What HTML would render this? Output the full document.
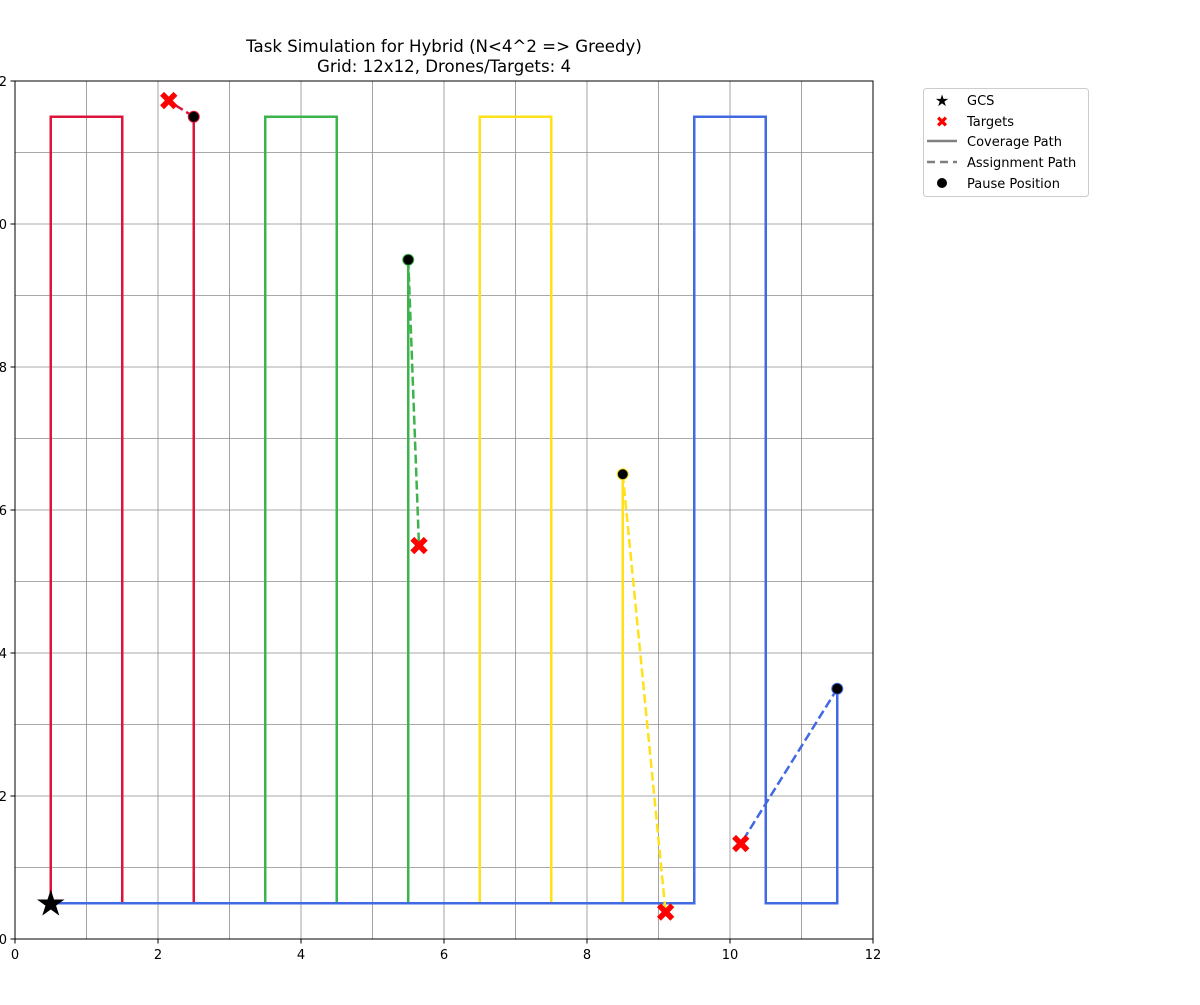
<!DOCTYPE html>
<html><head><meta charset="utf-8"><style>
body{margin:0;background:#fff;}
svg text{font-family:"DejaVu Sans","Liberation Sans",sans-serif;}
</style></head><body>
<svg id="chart" width="1200" height="1000" xmlns="http://www.w3.org/2000/svg">
<rect width="1200" height="1000" fill="#fff"/>
<text x="444" y="52" font-size="16.6" text-anchor="middle">Task Simulation for Hybrid (N&lt;4^2 =&gt; Greedy)</text>
<text x="444" y="72" font-size="16.6" text-anchor="middle">Grid: 12x12, Drones/Targets: 4</text>
<g id="grid"></g>
<g id="paths"></g>
<g id="marks"></g>
<rect x="15" y="81" width="858" height="858" fill="none" stroke="#000" stroke-width="1"/>
<g id="ticks"></g>
<g>
<rect x="923.5" y="88.5" width="165" height="108" rx="3" fill="#fff" stroke="#ccc"/>
<text x="942" y="106" font-size="16" text-anchor="middle">★</text><text x="967" y="105" font-size="13">GCS</text>
<text x="942" y="127" font-size="15" fill="red" font-weight="bold" text-anchor="middle">✖</text><text x="967" y="126" font-size="13">Targets</text>
<line x1="927" y1="141" x2="957" y2="141" stroke="#808080" stroke-width="2.5"/><text x="967" y="146" font-size="13">Coverage Path</text>
<line x1="927" y1="162" x2="957" y2="162" stroke="#808080" stroke-width="2.5" stroke-dasharray="8,5"/><text x="967" y="167" font-size="13">Assignment Path</text>
<circle cx="942" cy="183" r="5" fill="#000"/><text x="967" y="188" font-size="13">Pause Position</text>
</g>
</svg>
<script>
const xTicks=[0,2,4,6,8,10,12];
const yTicks=[0,2,4,6,8,10,12];
const droneNames=['red','green','yellow','blue'];
const droneColors=['#dc143c','#3cb44b','#ffe119','#4169e1'];
const pathRed=[[0.5,0.5],[0.5,11.5],[1.5,11.5],[1.5,0.5],[2.5,0.5],[2.5,11.5]];
const pathGreen=[[2.5,0.5],[3.5,0.5],[3.5,11.5],[4.5,11.5],[4.5,0.5],[5.5,0.5],[5.5,9.5]];
const pathYellow=[[5.5,0.5],[6.5,0.5],[6.5,11.5],[7.5,11.5],[7.5,0.5],[8.5,0.5],[8.5,6.5]];
const pathBlue=[[0.5,0.5],[9.5,0.5],[9.5,11.5],[10.5,11.5],[10.5,0.5],[11.5,0.5],[11.5,3.5]];
const pauses=[[2.5,11.5],[5.5,9.5],[8.5,6.5],[11.5,3.5]];
const targets=[[2.15,11.72],[5.65,5.5],[9.1,0.37],[10.15,1.33]];
const gcs=[0.5,0.5];
const X=v=>15+v*71.5, Y=v=>939-v*71.5;
const NS='http://www.w3.org/2000/svg';
function mk(tag,attrs,parent){const e=document.createElementNS(NS,tag);for(const k in attrs)e.setAttribute(k,attrs[k]);document.getElementById(parent).appendChild(e);return e;}
for(let i=1;i<12;i++){
 const a=mk('line',{x1:X(i),x2:X(i),y1:Y(0),y2:Y(12),stroke:'#8c8c8c','stroke-width':0.8},'grid');
 
 
 const b=mk('line',{x1:X(0),x2:X(12),y1:Y(i),y2:Y(i),stroke:'#8c8c8c','stroke-width':0.8},'grid');
 
 
}
xTicks.forEach(t=>{
 mk('line',{x1:X(t),x2:X(t),y1:939,y2:943.5,stroke:'#000'},'ticks');
 const tx=mk('text',{x:X(t),y:959,'font-size':13,'text-anchor':'middle'},'ticks');tx.textContent=t;
 
 
});
yTicks.forEach(t=>{
 mk('line',{x1:10.5,x2:15,y1:Y(t),y2:Y(t),stroke:'#000'},'ticks');
 const tx=mk('text',{x:7,y:Y(t)+5,'font-size':13,'text-anchor':'end'},'ticks');tx.textContent=t;
 
 
});
const paths=[pathRed,pathGreen,pathYellow,pathBlue];
paths.forEach((p,i)=>{
 const pl=mk('polyline',{points:p.map(q=>X(q[0])+','+Y(q[1])).join(' '),fill:'none',stroke:droneColors[i],'stroke-width':2.5},'paths');
 
 
});
pauses.forEach((p,i)=>{
 const t=targets[i];
 const l=mk('line',{x1:X(p[0]),y1:Y(p[1]),x2:X(t[0]),y2:Y(t[1]),stroke:droneColors[i],'stroke-width':2.5,'stroke-dasharray':'9,4'},'paths');
 
 
});
pauses.forEach((p,i)=>{
 const c=mk('circle',{cx:X(p[0]),cy:Y(p[1]),r:5.5,fill:'#000',stroke:droneColors[i],'stroke-width':1},'marks');
 
 
});
targets.forEach((t,i)=>{
 const tx=mk('text',{x:X(t[0]),y:Y(t[1])+9,'font-size':26,'font-weight':'bold',fill:'red','text-anchor':'middle'},'marks');
 tx.textContent='✖';
 
 
});
const g=mk('text',{x:X(gcs[0]),y:Y(gcs[1])+12,'font-size':36,'text-anchor':'middle',fill:'#000'},'marks');
g.textContent='★';


</script>
</body></html>
